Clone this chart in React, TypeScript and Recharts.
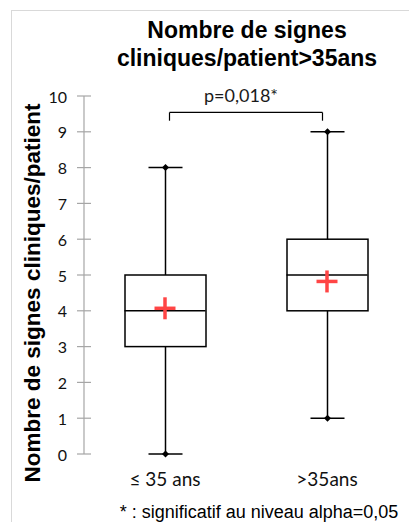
import React from 'react';
import { ComposedChart, Bar, Scatter, XAxis, YAxis, ReferenceLine } from 'recharts';

const categories = ['≤ 35 ans', '>35ans'];
const minValues = [0, 1];
const q1Values = [3, 4];
const medianValues = [4, 5];
const q3Values = [5, 6];
const maxValues = [8, 9];
const meanValues = [4.07, 4.82];
const yTicks = [0, 1, 2, 3, 4, 5, 6, 7, 8, 9, 10];
const titleLines = ['Nombre de signes', 'cliniques/patient>35ans'];
const yAxisTitle = 'Nombre de signes cliniques/patient';
const pValueLabel = 'p=0,018*';
const bracketTop = 9.54;
const bracketBottom = 9.31;
const footnote = '* : significatif au niveau alpha=0,05';

const data = categories.map((c, i) => ({
  cat: c,
  lower: [minValues[i], q1Values[i]],
  upper: [q3Values[i], maxValues[i]],
  box: [q1Values[i], q3Values[i]],
  median: medianValues[i],
  mean: meanValues[i],
}));

const BOX_W = 81;
const CAP_HALF = 17;
const LINE = '#000';

const Diamond = ({ cx, cy }: { cx: number; cy: number }) => (
  <polygon points={`${cx},${cy - 3.5} ${cx + 3.5},${cy} ${cx},${cy + 3.5} ${cx - 3.5},${cy}`} fill={LINE} />
);

const LowerWhisker = (p: any) => {
  const cx = p.x + p.width / 2;
  const top = p.y;
  const bot = p.y + p.height;
  return (
    <g>
      <line x1={cx} x2={cx} y1={top} y2={bot} stroke={LINE} strokeWidth={1.5} />
      <line x1={cx - CAP_HALF} x2={cx + CAP_HALF} y1={bot} y2={bot} stroke={LINE} strokeWidth={1.5} />
      <Diamond cx={cx} cy={bot} />
    </g>
  );
};

const UpperWhisker = (p: any) => {
  const cx = p.x + p.width / 2;
  const top = p.y;
  const bot = p.y + p.height;
  return (
    <g>
      <line x1={cx} x2={cx} y1={top} y2={bot} stroke={LINE} strokeWidth={1.5} />
      <line x1={cx - CAP_HALF} x2={cx + CAP_HALF} y1={top} y2={top} stroke={LINE} strokeWidth={1.5} />
      <Diamond cx={cx} cy={top} />
    </g>
  );
};

const BoxShape = (p: any) => (
  <rect x={p.x} y={p.y} width={p.width} height={p.height} fill="#fff" stroke={LINE} strokeWidth={1.5} />
);

const MedianShape = (p: any) => (
  <line x1={p.cx - BOX_W / 2} x2={p.cx + BOX_W / 2} y1={p.cy} y2={p.cy} stroke={LINE} strokeWidth={1.5} />
);

const MeanShape = (p: any) => (
  <g>
    <line x1={p.cx - 10.5} x2={p.cx + 10.5} y1={p.cy} y2={p.cy} stroke="#ff4545" strokeWidth={3.5} />
    <line x1={p.cx} x2={p.cx} y1={p.cy - 11} y2={p.cy + 11} stroke="#ff4545" strokeWidth={3.5} />
  </g>
);

const YTick = (p: any) => {
  const { x, y, payload } = p;
  return (
    <g>
      <line x1={x - 7} x2={x + 7} y1={y} y2={y} stroke="#a6a6a6" strokeWidth={1.2} />
      <text x={x - 17} y={y} textAnchor="end" dominantBaseline="central" fontFamily="Lato" fontSize={16} fill="#111">
        {payload.value}
      </text>
    </g>
  );
};

const INSET = 4.5;
const bracketShape = (dxa: number, dxb: number) => (p: any) => (
  <line x1={p.x1 + dxa} x2={p.x2 + dxb} y1={p.y1} y2={p.y2} stroke={LINE} strokeWidth={1.2} />
);

export default function App() {
  return (
    <div style={{ position: 'absolute', left: 0, top: 0, width: 409, height: 522, overflow: 'hidden', background: '#fff' }}>
      <div
        style={{
          position: 'absolute', left: 11, top: 10, width: 398, height: 512, boxSizing: 'border-box',
          borderLeft: '1px solid #d9d9d9', borderTop: '1px solid #d9d9d9',
        }}
      />
      <div
        style={{
          position: 'absolute', left: 247, top: 16, transform: 'translateX(-50%)', whiteSpace: 'nowrap',
          textAlign: 'center', fontFamily: '"Liberation Sans", Arial, sans-serif', fontWeight: 'bold',
          fontSize: 23, lineHeight: '28px', color: '#000',
        }}
      >
        {titleLines[0]}
        <br />
        {titleLines[1]}
      </div>
      <div style={{ position: 'absolute', left: 0, top: 0 }}>
        <ComposedChart width={409} height={522} data={data} margin={{ top: 96, right: 1, bottom: 38, left: 34 }}>
          <XAxis xAxisId={0} dataKey="cat" axisLine={false} tickLine={false} tickSize={0} tickMargin={19} height={30}
            tick={{ fontFamily: 'Lato', fontSize: 19, fill: '#111' }} interval={0} />
          <XAxis xAxisId="wl" dataKey="cat" hide />
          <XAxis xAxisId="wu" dataKey="cat" hide />
          <YAxis type="number" domain={[0, 10]} ticks={yTicks} width={50} interval={0}
            axisLine={{ stroke: '#a6a6a6', strokeWidth: 1.2 }} tickLine={false} tickSize={0} tickMargin={0}
            tick={<YTick />}
            label={{ value: yAxisTitle, angle: -90, position: 'center', dx: -27, dy: 18,
              style: { fontFamily: '"Liberation Sans", Arial', fontWeight: 'bold', fontSize: 22.5, fill: '#000' } }} />
          <Bar xAxisId="wl" dataKey="lower" barSize={BOX_W} shape={<LowerWhisker />} isAnimationActive={false} />
          <Bar xAxisId="wu" dataKey="upper" barSize={BOX_W} shape={<UpperWhisker />} isAnimationActive={false} />
          <Bar xAxisId={0} dataKey="box" barSize={BOX_W} shape={<BoxShape />} isAnimationActive={false} />
          <Scatter xAxisId={0} dataKey="median" shape={<MedianShape />} isAnimationActive={false} />
          <Scatter xAxisId={0} dataKey="mean" shape={<MeanShape />} isAnimationActive={false} />
          <ReferenceLine xAxisId={0}
            segment={[{ x: categories[0], y: bracketTop }, { x: categories[1], y: bracketTop }]}
            shape={bracketShape(INSET, -INSET)}
            label={{ value: pValueLabel, position: 'top', offset: 10, dx: -5,
              style: { fontFamily: 'Lato', fontSize: 18, fill: '#1a1a1a' } }} />
          <ReferenceLine xAxisId={0}
            segment={[{ x: categories[0], y: bracketTop }, { x: categories[0], y: bracketBottom }]}
            shape={bracketShape(INSET, INSET)} />
          <ReferenceLine xAxisId={0}
            segment={[{ x: categories[1], y: bracketTop }, { x: categories[1], y: bracketBottom }]}
            shape={bracketShape(-INSET, -INSET)} />
        </ComposedChart>
      </div>
      <div
        style={{
          position: 'absolute', left: 259, top: 502, transform: 'translateX(-50%)', whiteSpace: 'nowrap',
          fontFamily: '"Liberation Sans", Arial, sans-serif', fontSize: 18, lineHeight: '20px', color: '#000',
        }}
      >
        {footnote}
      </div>
    </div>
  );
}
